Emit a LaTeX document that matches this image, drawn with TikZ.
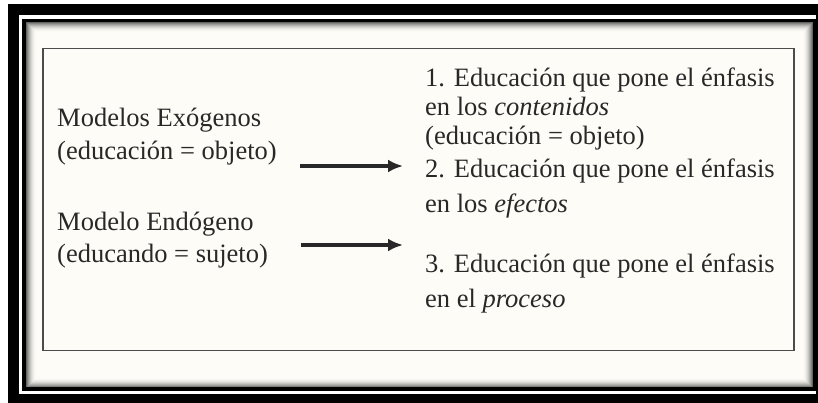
\documentclass[tikz,border=0pt]{standalone}
\usepackage{fontspec}
\setmainfont{Liberation Serif}
\usetikzlibrary{arrows.meta}
\definecolor{crema}{RGB}{253,252,247}
\definecolor{tinta}{RGB}{40,40,40}
\tikzset{%
texto/.style={inner sep=0pt,anchor=base west,align=left,text=tinta,
    font=\fontsize{26.5}{#1}\selectfont},
texto/.default=32,
flecha/.style={line width=3.5pt,draw=tinta,-{Latex[length=15pt,width=13pt]}},
}
\begin{document}
\begin{tikzpicture}[x=1pt,y=-1pt]
        \useasboundingbox (0,0) rectangle (818,403);
        % marco
        \fill[white] (0,0) rectangle (818,403);
        \fill[black] (8,4.5) rectangle (830,415);
        \fill[white] (19,15) rectangle (816,394);
        \draw[line width=3.5pt,fill=crema] (24,20.5) rectangle (814.5,389);
        \foreach \k [evaluate=\k as \op using {0.6*(1-\k/10)^2}] in {0,...,9}
            \draw[line width=1pt,draw opacity=\op] (26.5+\k,22.5+\k) rectangle (812.5-\k,387-\k);
        \draw[line width=1.5pt,black!70] (42.75,48.75) rectangle (793.75,350.5);
        % textos (anclados en la ultima linea)
        \node[texto=33] (exo) at (57,160) {Modelos Exógenos\\(educación = objeto)};
        \node[texto=32] (endo) at (57,262) {Modelo Endógeno\\(educando = sujeto)};
        \node[texto=29] (uno) at (425,145) {1. Educación que pone el énfasis\\en los \textit{contenidos}\\(educación = objeto)};
        \node[texto=35] (dos) at (425,213) {2. Educación que pone el énfasis\\en los \textit{efectos}};
        \node[texto=35] (tres) at (425,307) {3. Educación que pone el énfasis\\en el \textit{proceso}};
        % flechas
        \coordinate (f1) at (0,166);
        \coordinate (f2) at (0,245);
        \draw[flecha,shorten <=23pt,shorten >=22pt] (exo.east |- f1) -- (uno.west |- f1);
        \draw[flecha,shorten <=33pt,shorten >=22pt] (endo.east |- f2) -- (dos.west |- f2);
\end{tikzpicture}
\end{document}
